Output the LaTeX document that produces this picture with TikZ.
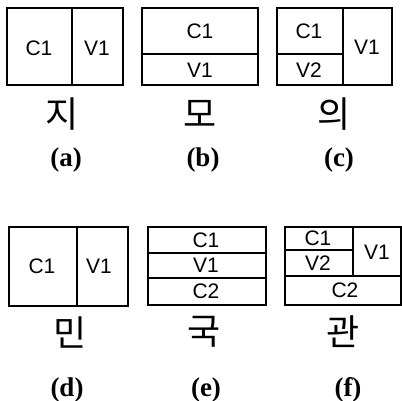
\documentclass[tikz,border=0pt]{standalone}
\usepackage{fontspec}
\setmainfont{Liberation Serif}
\newfontfamily\boxfont{Liberation Sans}
\newfontfamily\kofont{Noto Sans CJK KR}
\begin{document}
\begin{tikzpicture}[x=1pt,y=-1pt,
  frame/.style={line width=1.6pt},
  lbl/.style={font=\boxfont\fontsize{21}{21}\selectfont, inner sep=0pt, anchor=center},
  hangul/.style={font=\kofont\fontsize{36}{36}\selectfont, inner sep=0pt, anchor=center},
  sublabel/.style={font=\bfseries\fontsize{27}{27}\selectfont, inner sep=0pt, anchor=center}]
\useasboundingbox (0,0) rectangle (402,401);
% (a)
\draw[frame] (7,8) rectangle (123,85);
\draw[frame] (72,8) -- (72,85);
\node[lbl] (a1) at (39,48) {C1};
\node[lbl] (a2) at (97,48) {V1};
\node[hangul] (ak) at (62,114) {지};
\node[sublabel] (al) at (66,160) {(a)};
% (b)
\draw[frame] (142,8) rectangle (258,85);
\draw[frame] (142,54) -- (258,54);
\node[lbl] (b1) at (200,31) {C1};
\node[lbl] (b2) at (200,70) {V1};
\node[hangul] (bk) at (200,114) {모};
\node[sublabel] (bl) at (203,160) {(b)};
% (c)
\draw[frame] (277,8) rectangle (392,85);
\draw[frame] (343,8) -- (343,85);
\draw[frame] (277,54) -- (343,54);
\node[lbl] (c1) at (309,31) {C1};
\node[lbl] (c2) at (309,70) {V2};
\node[lbl] (c3) at (367,47) {V1};
\node[hangul] (ck) at (334,114) {의};
\node[sublabel] (cl) at (339,160) {(c)};
% (d)
\draw[frame] (9,227) rectangle (128,306);
\draw[frame] (77,227) -- (77,306);
\node[lbl] (d1) at (42,266) {C1};
\node[lbl] (d2) at (99,266) {V1};
\node[hangul] (dk) at (70,332) {민};
\node[sublabel] (dl) at (67,390) {(d)};
% (e)
\draw[frame] (148,227) rectangle (266,305);
\draw[frame] (148,253) -- (266,253);
\draw[frame] (148,278) -- (266,278);
\node[lbl] (e1) at (206,240) {C1};
\node[lbl] (e2) at (206,265) {V1};
\node[lbl] (e3) at (206,291) {C2};
\node[hangul] (ek) at (204,332) {국};
\node[sublabel] (el) at (206,390) {(e)};
% (f)
\draw[frame] (285,227) rectangle (401,305);
\draw[frame] (353,227) -- (353,276);
\draw[frame] (285,250) -- (353,250);
\draw[frame] (285,276) -- (401,276);
\node[lbl] (f1) at (318,238) {C1};
\node[lbl] (f2) at (318,263) {V2};
\node[lbl] (f3) at (377,252) {V1};
\node[lbl] (f4) at (345,290) {C2};
\node[hangul] (fk) at (343,332) {관};
\node[sublabel] (fl) at (348,390) {(f)};
\end{tikzpicture}
\end{document}
